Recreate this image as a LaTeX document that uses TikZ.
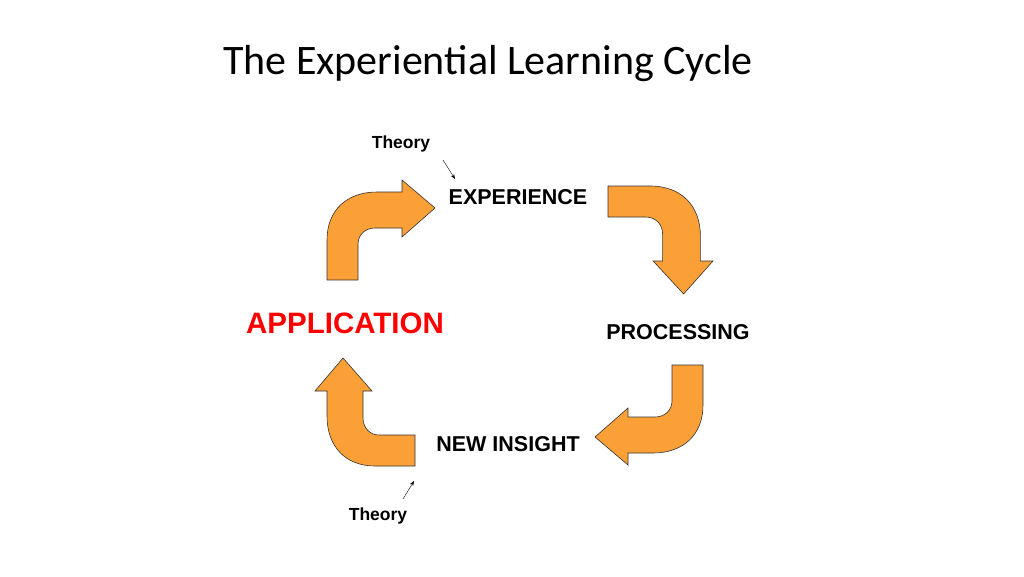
\documentclass[tikz,border=0pt]{standalone}
\usepackage{fontspec}
\setmainfont{Liberation Sans}
\newfontfamily\titlefont{Carlito}
\usetikzlibrary{arrows.meta}

\definecolor{cycleorange}{RGB}{250,160,55}

\newcommand{\bentarrow}{%
    \draw[bent] (0,0) -- (0,40) .. controls (0,70) and (20,88) .. (50,88)
        -- (75,88) -- (75,100) -- (108,72) -- (75,43) -- (75,52) -- (48,52)
        .. controls (38,52) and (31,45) .. (31,36) -- (31,0) -- cycle;}

\begin{document}
\begin{tikzpicture}[
    x = 1pt, y = 1pt,
    > = Stealth,
    bent/.style={draw=black!80, fill=cycleorange, line width=0.6pt},
    stage/.style={font=\bfseries\fontsize{21.5}{25}\selectfont},
    theory/.style={font=\bfseries\fontsize{17.5}{20}\selectfont}
]
    \useasboundingbox (0,0) rectangle (1024,-576);

    \node[font=\titlefont\fontsize{42}{48}\selectfont] (title) at (488,-64) {The Experiential Learning Cycle};

    % the four bent arrows
    \begin{scope}[shift={(327,-280)}] \bentarrow \end{scope}
    \begin{scope}[shift={(608,-186)}, rotate=-90, yscale=1.05] \bentarrow \end{scope}
    \begin{scope}[shift={(703,-365)}, rotate=180] \bentarrow \end{scope}
    \begin{scope}[shift={(415,-466)}, rotate=90] \bentarrow \end{scope}

    \node[stage] (exp) at (518,-197) {EXPERIENCE};
    \node[stage] (proc) at (678,-332) {PROCESSING};
    \node[stage] (ins) at (508,-444) {NEW INSIGHT};
    \node[stage, text=red, font=\bfseries\fontsize{29.5}{34}\selectfont] (app) at (345,-323) {APPLICATION};

    \node[theory] (th1) at (401,-144) {Theory};
    \node[theory] (th2) at (378,-516) {Theory};
    \coordinate (q1) at (443,-160);
    \coordinate (p1) at (455,-179);
    \coordinate (q2) at (403,-499);
    \coordinate (p2) at (414,-481);
    \draw[->, thin] (q1) -- (p1);
    \draw[->, thin] (q2) -- (p2);
\end{tikzpicture}
\end{document}
